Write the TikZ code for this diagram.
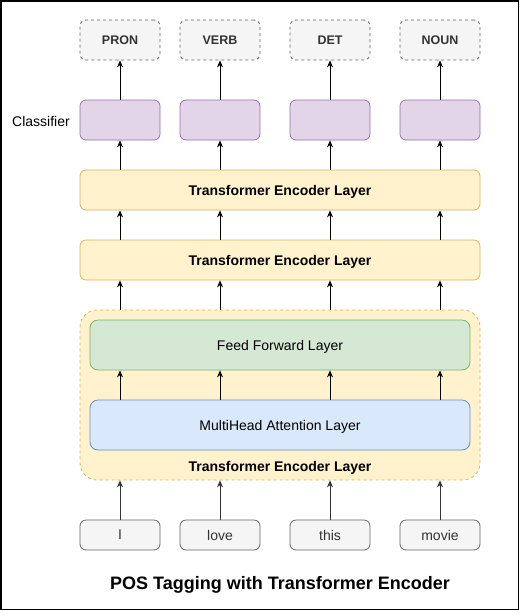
\documentclass[tikz,border=0pt]{standalone}
\usepackage{fontspec}
\setmainfont{Liberation Sans}
\usetikzlibrary{positioning, arrows.meta}

\definecolor{yelfill}{HTML}{FFF2CC}
\definecolor{yelline}{HTML}{D6B656}
\definecolor{purfill}{HTML}{E1D5E7}
\definecolor{purline}{HTML}{9673A6}
\definecolor{grnfill}{HTML}{D5E8D4}
\definecolor{grnline}{HTML}{82B366}
\definecolor{blufill}{HTML}{DAE8FC}
\definecolor{bluline}{HTML}{6C8EBF}
\definecolor{gryfill}{HTML}{F5F5F5}
\definecolor{gryline}{HTML}{666666}
\definecolor{grytext}{HTML}{333333}

\tikzset{
  box/.style={draw, rounded corners=6pt, line width=0.8pt, inner sep=0pt,
    minimum width=80pt, minimum height=40pt, text depth=0pt},
  tagbox/.style={box, draw=gryline, fill=gryfill, text=grytext,
    dash pattern=on 3pt off 3pt, font=\fontsize{12.5}{15}\selectfont\bfseries},
  clsbox/.style={box, draw=purline, fill=purfill},
  wordbox/.style={box, draw=gryline, fill=gryfill, text=grytext,
    minimum height=30pt, font=\fontsize{14}{16}\selectfont},
  layer/.style={box, draw=yelline, fill=yelfill, minimum width=400pt,
    font=\fontsize{14}{16}\selectfont\bfseries},
  sublayer/.style={box, rounded corners=8pt, minimum width=380pt,
    minimum height=50pt, font=\fontsize{14}{16}\selectfont},
  arr/.style={-{Stealth[length=7pt,width=6pt]}, line width=0.8pt}
}

\begin{document}
\begin{tikzpicture}[x=1pt, y=-1pt]
  \useasboundingbox (0,0) rectangle (521,611);
  \draw[line width=1.5pt] (1,1) rectangle (518.5,609.5);

  \node[font=\fontsize{14}{16}\selectfont] (clslabel) at (41,121) {Classifier};

  \foreach \n/\x/\t/\w in {a/120/PRON/I, b/220/VERB/love, c/330/DET/this, d/440/NOUN/movie} {
    \node[tagbox] (tag\n) at (\x,40) {\t};
    \node[clsbox] (cls\n) at (\x,120) {};
    \node[wordbox] (word\n) at (\x,535) {\w};
  }

  \node[layer] (enc1) at (280,190) {Transformer Encoder Layer};
  \node[layer] (enc2) at (280,260) {Transformer Encoder Layer};

  % the expanded encoder layer
  \node[box, rounded corners=17pt, draw=yelline, fill=yelfill,
    dash pattern=on 3pt off 3pt, minimum width=400pt, minimum height=170pt]
    (block) at (280,395) {};
  \node[sublayer, draw=grnline, fill=grnfill] (ffn) at (280,345) {Feed Forward Layer};
  \node[sublayer, draw=bluline, fill=blufill] (mha) at (280,425) {MultiHead Attention Layer};
  \node[font=\fontsize{14}{16}\selectfont\bfseries, text depth=0pt] (blocklabel)
    at (280,466) {Transformer Encoder Layer};

  \foreach \n in {a,b,c,d} {
    \draw[arr] (cls\n) -- (tag\n);
    \draw[arr] (enc1.north -| cls\n) -- (cls\n);
    \draw[arr] (enc2.north -| cls\n) -- (enc1.south -| cls\n);
    \draw[arr] (block.north -| cls\n) -- (enc2.south -| cls\n);
    \draw[arr] (mha.north -| cls\n) -- (ffn.south -| cls\n);
    \draw[arr, grytext] (word\n) -- (block.south -| word\n);
  }

  \node[font=\fontsize{18}{21}\selectfont\bfseries, text depth=0pt] (title)
    at (280,583) {POS Tagging with Transformer Encoder};
\end{tikzpicture}
\end{document}
